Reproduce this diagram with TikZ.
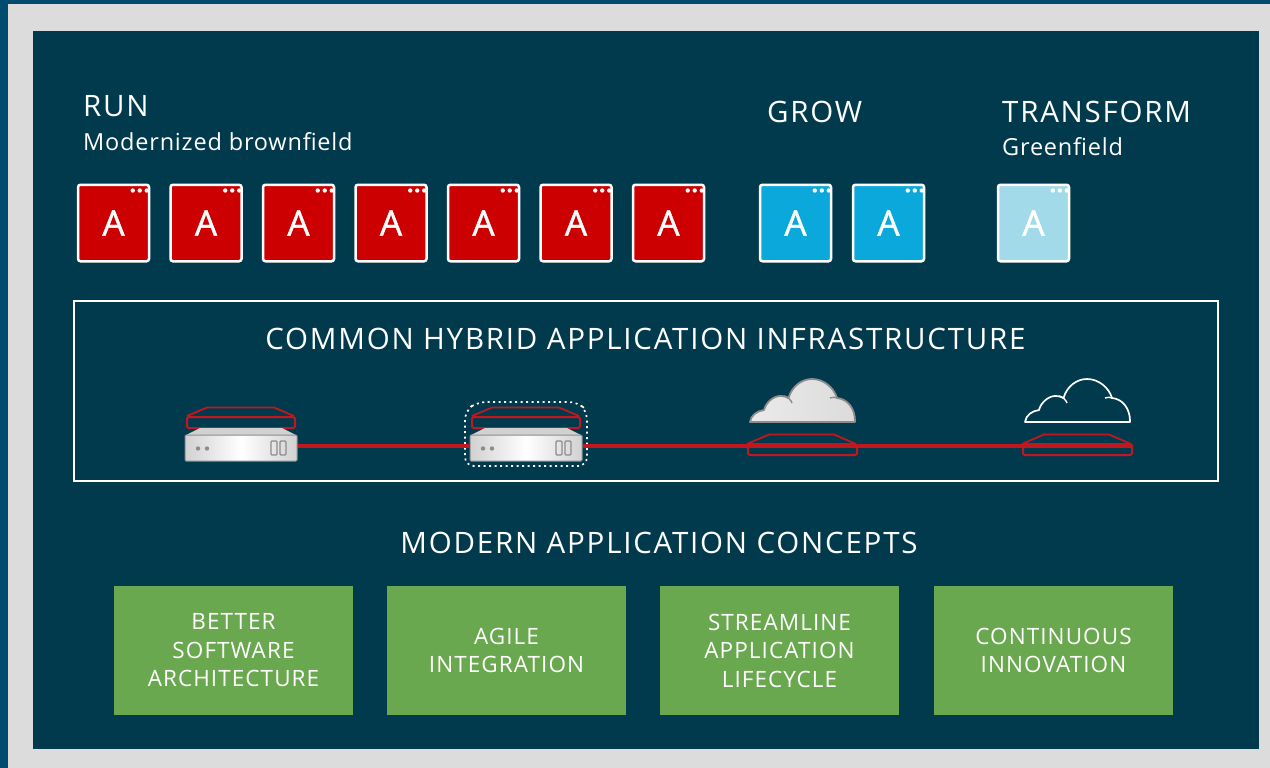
\documentclass[tikz,border=0pt]{standalone}
\usepackage{fontspec}
\setmainfont{Open Sans}
\newfontfamily\tilefont[FakeBold=1.2]{Open Sans}
\usetikzlibrary{calc}
\definecolor{panel}{HTML}{023A4D}
\definecolor{edge}{HTML}{004B6E}
\definecolor{paper}{HTML}{DCDCDC}
\definecolor{runred}{HTML}{CC0000}
\definecolor{growblue}{HTML}{0BA8DC}
\definecolor{paleblue}{HTML}{A3DAEA}
\definecolor{leaf}{HTML}{6AA84F}
\definecolor{wire}{HTML}{C1171F}
\tikzset{
  x=1pt,y=-1pt,
  apptile/.style={draw=white,line width=2.5pt,rounded corners=2.5pt,minimum width=71pt,minimum height=76.5pt,inner sep=0pt,text=white,font=\fontsize{35}{35}\selectfont\tilefont},
  heading/.style={text=white,inner sep=0pt,anchor=base west,font=\fontsize{29.5}{32}\selectfont\addfontfeatures{LetterSpace=6}},
  subhead/.style={text=white,inner sep=0pt,anchor=base west,font=\fontsize{23.5}{28}\selectfont\addfontfeatures{LetterSpace=3.4}},
  bigtitle/.style={text=white,inner sep=0pt,font=\fontsize{29.5}{34}\selectfont\addfontfeatures{LetterSpace=6}},
  concept/.style={fill=leaf,minimum width=239pt,minimum height=129pt,inner sep=0pt,text=white,align=center,font=\fontsize{22.5}{28.5}\selectfont\addfontfeatures{LetterSpace=4.8}},
  frame/.style={draw=white,line width=1.5pt,minimum width=1144pt,minimum height=180pt,inner sep=0pt},
  serverbody/.style={draw=black!45,line width=1pt,rounded corners=1pt,minimum width=112pt,minimum height=26pt,inner sep=0pt,left color=black!18,right color=black!18,middle color=white},
  platform/.style={draw=wire,line width=2pt,rounded corners=1.5pt,minimum height=11pt,inner sep=0pt},
  wireline/.style={draw=wire,line width=3.6pt},
  redline/.style={draw=wire,line width=1.8pt,line join=round},
}
\newcommand{\tile}[3]{%
  \node[apptile,fill=#3] (#1) at (#2,223) {A};
  \foreach \d in {0,7,14}{\fill[white] ($(#1.north east)+(-17.5+\d,7)$) circle (2.2pt);}
}
\newcommand{\serverunit}[2]{%
  \node[platform,minimum width=108pt] (#1p) at (#2,422.5) {};
  \draw[redline] (#1p.north west)++(1,0) -- ++(20,-8.5) -- ++(67,0) -- ++(20,8.5);
  \fill[black!18] (#2-55,435) -- (#2-41,428) -- (#2+41,428) -- (#2+55,435) -- cycle;
  \node[serverbody] (#1) at (#2,448) {};
  \fill[black!45] (#2-43,448.5) circle (2.2pt) (#2-34,448.5) circle (2.2pt);
  \draw[black!45,line width=1.2pt,rounded corners=1pt] (#2+30,441) rectangle (#2+36,455) (#2+39,441) rectangle (#2+45,455);
}
\newcommand{\cloudpath}{
  (0,0) .. controls (1,-7) and (7,-11) .. (14,-12)
  .. controls (16,-20) and (24,-26) .. (30,-26)
  .. controls (34,-26) and (37,-25) .. (38.5,-24)
  .. controls (42,-36) and (52,-43) .. (62,-43)
  .. controls (74,-43) and (84,-34) .. (87,-24)
  .. controls (98,-23) and (105,-13) .. (105,-1) -- (105,0) -- cycle
}
\newcommand{\cloudhooks}{
  (34,-26) .. controls (38,-25) and (41,-22) .. (42,-19)
  (80,-24) .. controls (83,-25) and (85,-25) .. (87,-24)
}
\begin{document}
\begin{tikzpicture}
\useasboundingbox (0,0) rectangle (1270,768);
\fill[edge] (0,0) rectangle (1270,768);
\fill[paper] (8,4) rectangle (1270,768);
\fill[panel] (33,31) rectangle (1259,749);

\node[heading] (run) at (83,117) {RUN};
\node[subhead] (runsub) at (83,150) {Modernized brownfield};
\node[heading] (grow) at (767,122) {GROW};
\node[heading] (transform) at (1002,122) {TRANSFORM};
\node[subhead] (greenfield) at (1002,155) {Greenfield};

\tile{r1}{113.5}{runred}
\tile{r2}{206}{runred}
\tile{r3}{298.5}{runred}
\tile{r4}{391}{runred}
\tile{r5}{483.5}{runred}
\tile{r6}{576}{runred}
\tile{r7}{668.5}{runred}
\tile{g1}{795.5}{growblue}
\tile{g2}{888.5}{growblue}
\tile{t1}{1033.5}{paleblue}

\node[frame] (infra) at (646,391) {};
\node[bigtitle] (infratitle) at (645.5,339) {COMMON HYBRID APPLICATION INFRASTRUCTURE};

\serverunit{s1}{241}
\serverunit{s2}{526}
\draw[white,line width=1.7pt,dash pattern=on 2pt off 3.5pt,rounded corners=9pt] (465,411) -- (477,402) -- (578,402) -- (587,411) -- (587,466) -- (465,466) -- cycle;

\begin{scope}[shift={(750,422)}]
  \shade[left color=black!8,middle color=black!1,right color=black!14] \cloudpath;
  \draw[black!45,line width=1.8pt,line join=round] \cloudpath;
  \draw[black!45,line width=1.4pt] \cloudhooks;
\end{scope}
\begin{scope}[shift={(1025,422)}]
  \draw[white,line width=1.7pt,line join=round] \cloudpath;
  \draw[white,line width=1.4pt] \cloudhooks;
\end{scope}

\node[platform,minimum width=109pt] (p3) at (802.5,449.5) {};
\draw[redline] (p3.north west)++(0,1) -- ++(22,-9.5) -- ++(65,0) -- ++(22,9.5);
\node[platform,minimum width=109pt] (p4) at (1077.5,449.5) {};
\draw[redline] (p4.north west)++(0,1) -- ++(22,-9.5) -- ++(65,0) -- ++(22,9.5);

\coordinate (ly) at (0,446);
\draw[wireline] (s1.east |- ly) -- (s2.west |- ly);
\draw[wireline] (s2.east |- ly) -- (p3.west |- ly);
\draw[wireline] (p3.east |- ly) -- (p4.west |- ly);
\draw[wire,line width=3pt] (p3.west |- ly) -- (p3.east |- ly);
\draw[wire,line width=3pt] (p4.west |- ly) -- (p4.east |- ly);

\node[bigtitle] (concepts) at (659,543) {MODERN APPLICATION CONCEPTS};
\node[concept] (c1) at (233.5,650.5) {BETTER\\SOFTWARE\\ARCHITECTURE};
\node[concept] (c2) at (506.5,650.5) {AGILE\\INTEGRATION};
\node[concept] (c3) at (779.5,650.5) {STREAMLINE\\APPLICATION\\LIFECYCLE};
\node[concept] (c4) at (1053.5,650.5) {CONTINUOUS\\INNOVATION};
\end{tikzpicture}
\end{document}
